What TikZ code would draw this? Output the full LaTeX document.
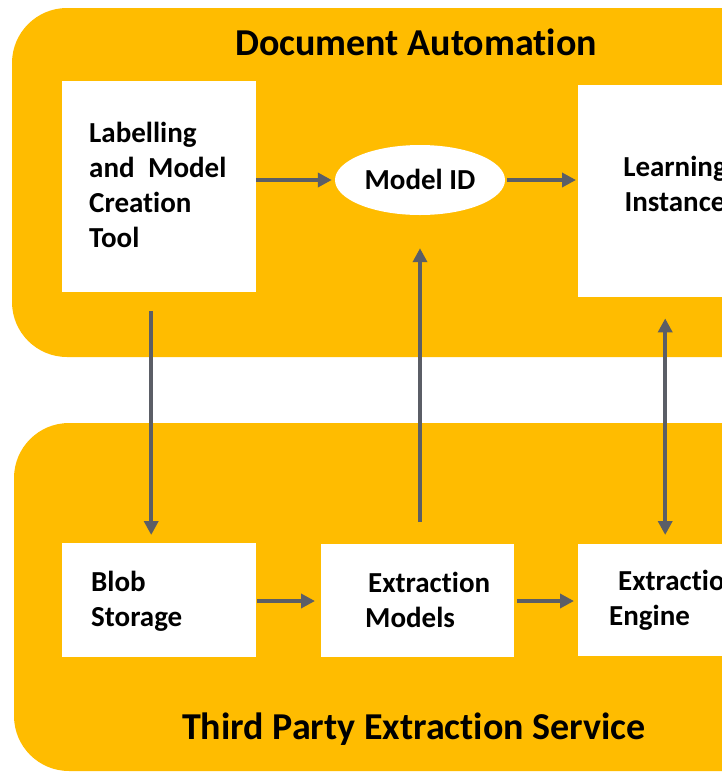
\documentclass[tikz,border=0pt]{standalone}
\usepackage{fontspec}
\setmainfont{Carlito}[Ligatures=NoCommon]
\usetikzlibrary{arrows.meta,shapes.geometric}
\definecolor{gold}{HTML}{FFBC00}
\definecolor{arrowgray}{HTML}{5B5E66}
\begin{document}
\begin{tikzpicture}[x=1pt,y=-1pt,
  region/.style={fill=gold, rounded corners=55pt},
  box/.style={fill=white, draw=none, rectangle, inner sep=0pt, anchor=north west},
  txt/.style={font=\fontsize{29}{35}\selectfont\bfseries, align=left, inner sep=0pt, anchor=west},
  ctxt/.style={font=\fontsize{29}{35}\selectfont\bfseries, align=center, inner sep=0pt},
  title/.style={font=\fontsize{38}{44}\selectfont\bfseries, inner sep=0pt, anchor=base},
  conn/.style={draw=arrowgray, line width=4pt, -{Triangle[length=14pt,width=14pt]}},
  dconn/.style={draw=arrowgray, line width=4pt, {Triangle[length=14pt,width=14pt]}-{Triangle[length=14pt,width=14pt]}}]
\useasboundingbox (0,0) rectangle (722,772);
\clip (0,0) rectangle (722,772);
% regions
\fill[region] (12,8) rectangle (840,357);
\fill[region] (14,423) rectangle (840,771);
\node[title] (t1) at (416,55) {Document Automation};
\node[title] (t2) at (414,739) {Third Party Extraction Service};
% top boxes
\node[box, minimum width=194pt, minimum height=211pt] (lab) at (62,81) {};
\node[txt] (labt) at (89,185) {Labelling\\and\hspace{7pt} Model\\Creation\\Tool};
\node[ellipse, fill=white, minimum width=170pt, minimum height=70pt, inner sep=0pt] (mid) at (420,180) {};
\node[ctxt] (midt) at (420,179) {Model ID};
\node[box, minimum width=194pt, minimum height=212pt] (learn) at (578,85) {};
\node[ctxt] (learnt) at (675,184) {Learning\\Instance};
% bottom boxes
\node[box, minimum width=194pt, minimum height=114pt] (blob) at (62,543) {};
\node[txt] (blobt) at (91,601) {Blob\\Storage};
\node[box, minimum width=193pt, minimum height=113pt] (em) at (321,544) {};
\node[txt] (emt) at (365,600) {\hspace{3pt}Extraction\\Models};
\node[box, minimum width=194pt, minimum height=112pt] (ee) at (578,544) {};
\node[txt] (eet) at (609,600) {\hspace{9pt}Extraction\\Engine};
% connectors
\draw[conn, shorten >=3pt] (lab.east |- mid.west) -- (mid.west);
\draw[conn, shorten >=2pt, shorten <=2pt] (mid.east) -- (mid.east -| learn.west);
\draw[conn, shorten <=19pt, shorten >=8pt] ([xshift=-8pt]lab.south) -- ([xshift=-8pt]blob.north);
\draw[conn, shorten <=22pt, shorten >=33pt] (em.north -| mid.south) -- (mid.south);
\draw[dconn, shorten <=21pt, shorten >=9pt] ([xshift=-10pt]learn.south) -- ([xshift=-10pt]ee.north);
\draw[conn, shorten <=1pt, shorten >=6pt] (blob.east |- blobt.west) -- (blobt.west -| em.west);
\draw[conn, shorten <=3pt, shorten >=4pt] (em.east |- blobt.west) -- (blobt.west -| ee.west);
\end{tikzpicture}
\end{document}
